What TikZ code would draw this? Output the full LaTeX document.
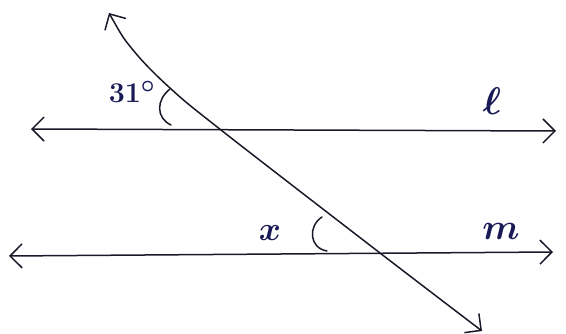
\documentclass[tikz,border=0pt]{standalone}
\usetikzlibrary{arrows.meta}
\definecolor{ink}{RGB}{28,24,40}
\definecolor{lab}{RGB}{25,25,85}
\newcommand{\bigtxt}[2]{\scalebox{#1}{\Huge\boldmath$#2$}}
\begin{document}
\begin{tikzpicture}[x=1pt,y=-1pt,
  lineink/.style={draw=ink,line width=1.5pt,line cap=round},
  barb/.tip={Straight Barb[length=12pt,width=24pt,line width=1.5pt]},
  lbl/.style={text=lab,inner sep=0pt}]
\useasboundingbox (0,0) rectangle (566,334);
% line l
\coordinate (lL) at (31,129);
\coordinate (lR) at (556,131);
\draw[lineink,barb-barb] (lL) -- (lR);
% line m
\coordinate (mL) at (9,256);
\coordinate (mR) at (553,252);
\draw[lineink,barb-barb] (mL) -- (mR);
% transversal
\coordinate (tT) at (109,13);
\coordinate (t0) at (133,50);
\coordinate (t1) at (170,88);
\coordinate (t2) at (221,130);
\coordinate (t3) at (380,253);
\coordinate (tB) at (482,331);
\draw[lineink,barb-barb] plot[smooth,tension=0.6] coordinates {(tT) (t0) (t1) (t2) (t3) (tB)};
% angle arcs
\coordinate (a1s) at (170,89);
\coordinate (a1e) at (171,125);
\draw[lineink] (a1s) .. controls (156,100) and (156,118) .. (a1e);
\coordinate (a2s) at (322,217);
\coordinate (a2e) at (327,251);
\draw[lineink] (a2s) .. controls (308,226) and (309,248) .. (a2e);
% labels
\node[lbl] (ang) at (132,92) {\bigtxt{1.15}{31^{\circ}}};
\node[lbl] (xl) at (270,233) {\bigtxt{1.35}{x}};
\node[lbl] (ll) at (492,101) {\bigtxt{1.55}{\ell}};
\node[lbl] (ml) at (501,231) {\bigtxt{1.45}{m}};
\end{tikzpicture}
\end{document}
